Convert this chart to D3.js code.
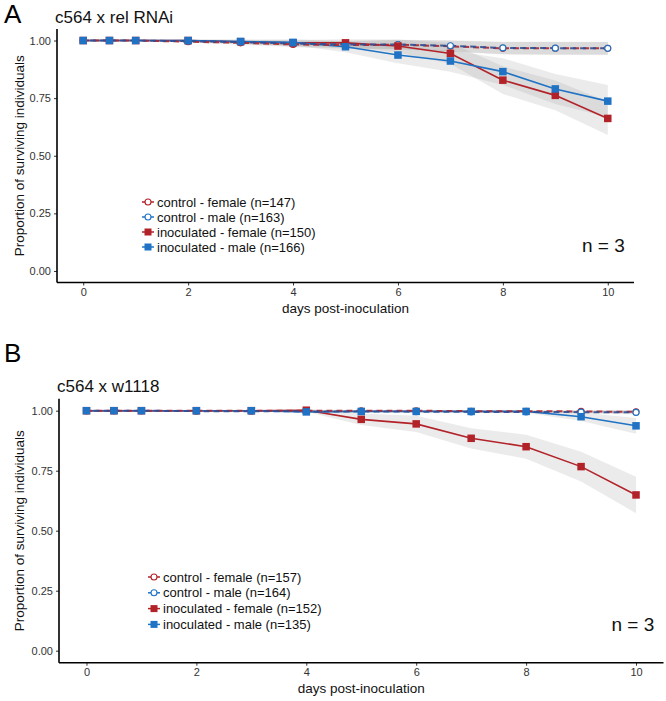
<!DOCTYPE html>
<html><head><meta charset="utf-8">
<script src="https://cdn.jsdelivr.net/npm/d3@7"></script>
<style>body{margin:0;background:#fff}svg{display:block}text{font-family:"Liberation Sans",Arial,sans-serif}</style>
</head><body>
<svg id="c" width="666" height="701"></svg>
<script>
const days = [0,0.5,1,2,3,4,5,6,7,8,9,10];
const xTicks = [0,2,4,6,8,10];
const yTicks = [0,0.25,0.5,0.75,1];
const seriesNames = ["control - female","control - male","inoculated - female","inoculated - male"];

// Panel A: c564 x rel RNAi
const ctrlFemaleA = [1,1,1,0.995,0.99,0.983,0.98,0.982,0.975,0.966,0.966,0.966];
const ctrlMaleA   = [1,1,1,0.997,0.993,0.987,0.983,0.983,0.977,0.968,0.967,0.966];
const inocFemaleA = [1,1,1,1,0.995,0.99,0.99,0.976,0.944,0.828,0.762,0.662];
const inocMaleA   = [1,1,1,1,0.996,0.992,0.973,0.937,0.911,0.865,0.79,0.737];
const ctrlBandA   = [0,0,0,0.004,0.008,0.012,0.016,0.02,0.024,0.027,0.028,0.028];
const inocFBandA  = [0,0,0,0.004,0.008,0.012,0.016,0.028,0.045,0.06,0.065,0.072];
const inocMBandA  = [0,0,0,0.004,0.008,0.014,0.024,0.036,0.046,0.058,0.065,0.07];
const nA = [147,163,150,166];

// Panel B: c564 x w1118
const ctrlFemaleB = [1,1,1,1,1,1,1,1,0.998,0.998,0.997,0.995];
const ctrlMaleB   = [1,1,1,0.998,0.998,0.997,0.997,0.996,0.995,0.995,0.994,0.993];
const inocFemaleB = [1,1,1,1,1,1.002,0.964,0.945,0.885,0.85,0.767,0.649];
const inocMaleB   = [1,1,1,1,1,0.995,0.997,0.997,0.997,0.997,0.975,0.937];
const ctrlBandB   = [0,0,0,0,0,0.002,0.003,0.003,0.004,0.004,0.006,0.008];
const inocFBandB  = [0,0,0,0,0,0.006,0.024,0.034,0.042,0.05,0.062,0.076];
const inocMBandB  = [0,0,0,0,0,0.003,0.004,0.004,0.005,0.006,0.018,0.033];
const nB = [157,164,152,135];

const RED = "#b22229", BLUE = "#1f72c4";
const svg = d3.select("#c");

function panel(cfg){
  const g = svg.append("g");
  const x = d3.scaleLinear().domain([-0.5,10.5]).range([cfg.x0,cfg.x1]);
  const y = d3.scaleLinear().domain([-0.05,1.05]).range([cfg.y0,cfg.y1]);
  g.append("text").attr("x",4).attr("y",cfg.letterY).attr("font-size",26).text(cfg.letter);
  g.append("text").attr("x",cfg.x0-2).attr("y",cfg.titleY).attr("font-size",17).attr("fill","#111").text(cfg.title);
  const area = (vals,hw)=>d3.area().x((d,i)=>x(days[i])).y0((d,i)=>y(vals[i]-hw[i])).y1((d,i)=>y(vals[i]+hw[i]))(vals);
  const bands = [[cfg.cf,cfg.cb],[cfg.cm,cfg.cb],[cfg.iF,cfg.iFb],[cfg.iM,cfg.iMb]];
  bands.forEach(([v,h])=>g.append("path").attr("d",area(v,h)).attr("fill","#9a9a9a").attr("opacity",0.2));
  const line = vals=>d3.line().x((d,i)=>x(days[i])).y(d=>y(d))(vals);
  [[cfg.iF,RED],[cfg.iM,BLUE]].forEach(([v,c])=>{
    g.append("path").attr("d",line(v)).attr("fill","none").attr("stroke",c).attr("stroke-width",1.6);
  });
  [[cfg.cf,RED],[cfg.cm,"#2e4f95"]].forEach(([v,c],k)=>{
    g.append("path").attr("d",line(v)).attr("fill","none").attr("stroke",c).attr("stroke-width",2)
     .attr("stroke-dasharray","6,4").attr("stroke-dashoffset",k*3).attr("opacity",0.9);
  });
  [[cfg.cf,RED],[cfg.cm,BLUE]].forEach(([v,c])=>{
    g.selectAll(null).data(v).join("circle").attr("cx",(d,i)=>x(days[i])).attr("cy",d=>y(d)).attr("r",3)
     .attr("fill","#fff").attr("stroke",c).attr("stroke-width",1.1);
  });
  [[cfg.iF,RED],[cfg.iM,BLUE]].forEach(([v,c])=>{
    g.selectAll(null).data(v).join("rect").attr("x",(d,i)=>x(days[i])-3.75).attr("y",d=>y(d)-3.75)
     .attr("width",7.5).attr("height",7.5).attr("fill",c);
  });
  const ya = g.append("g").attr("transform",`translate(${cfg.x0},0)`).call(d3.axisLeft(y).tickValues(yTicks).tickFormat(d3.format(".2f")).tickSize(3).tickPadding(3));
  const xa = g.append("g").attr("transform",`translate(0,${cfg.y0})`).call(d3.axisBottom(x).tickValues(xTicks).tickSize(3).tickPadding(2.5));
  [ya,xa].forEach(a=>{
    a.select(".domain").remove();
    a.selectAll(".tick line").attr("stroke","#333");
    a.selectAll(".tick text").attr("font-size",11).attr("fill","#333").attr("font-family","Liberation Sans,Arial,sans-serif");
  });
  g.append("line").attr("x1",cfg.x0).attr("x2",cfg.x0).attr("y1",cfg.y1).attr("y2",cfg.y0).attr("stroke","#000").attr("stroke-width",1.6);
  g.append("line").attr("x1",cfg.x0).attr("x2",cfg.x1).attr("y1",cfg.y0).attr("y2",cfg.y0).attr("stroke","#000").attr("stroke-width",1.6);
  g.append("text").attr("x",(cfg.x0+cfg.x1)/2).attr("y",cfg.y0+30.5).attr("text-anchor","middle").attr("font-size",13.5).attr("fill","#111").text("days post-inoculation");
  g.append("text").attr("transform",`translate(24,${(cfg.y0+cfg.y1)/2}) rotate(-90)`).attr("text-anchor","middle").attr("font-size",13.5).attr("fill","#111").text("Proportion of surviving individuals");
  const lg = g.append("g");
  seriesNames.forEach((nm,i)=>{
    const yy = cfg.legY + i*cfg.legDy, c = i%2===0?RED:BLUE;
    lg.append("line").attr("x1",cfg.legX-6).attr("x2",cfg.legX+6).attr("y1",yy).attr("y2",yy).attr("stroke",c).attr("stroke-width",1.5);
    if(i<2) lg.append("circle").attr("cx",cfg.legX).attr("cy",yy).attr("r",3).attr("fill","#fff").attr("stroke",c).attr("stroke-width",1.1);
    else lg.append("rect").attr("x",cfg.legX-3.5).attr("y",yy-3.5).attr("width",7).attr("height",7).attr("fill",c);
    lg.append("text").attr("x",cfg.legX+9).attr("y",yy+4.5).attr("font-size",13).attr("fill","#111").text(`${nm} (n=${cfg.n[i]})`);
  });
  g.append("text").attr("x",cfg.x1-52).attr("y",cfg.nY).attr("font-size",19).attr("font-family","Open Sans,sans-serif").attr("fill","#111").text("n = 3");
}

panel({letter:"A",letterY:23,title:"c564 x rel RNAi",titleY:22.5,x0:57,x1:634,y0:282.5,y1:29,
  cf:ctrlFemaleA,cm:ctrlMaleA,iF:inocFemaleA,iM:inocMaleA,cb:ctrlBandA,iFb:inocFBandA,iMb:inocMBandA,
  n:nA,legX:148,legY:202,legDy:15,nY:252});
panel({letter:"B",letterY:362,title:"c564 x w1118",titleY:392,x0:59,x1:663.5,y0:662.7,y1:398.7,
  cf:ctrlFemaleB,cm:ctrlMaleB,iF:inocFemaleB,iM:inocMaleB,cb:ctrlBandB,iFb:inocFBandB,iMb:inocMBandB,
  n:nB,legX:154,legY:577,legDy:15.8,nY:631});
</script>
</body></html>
